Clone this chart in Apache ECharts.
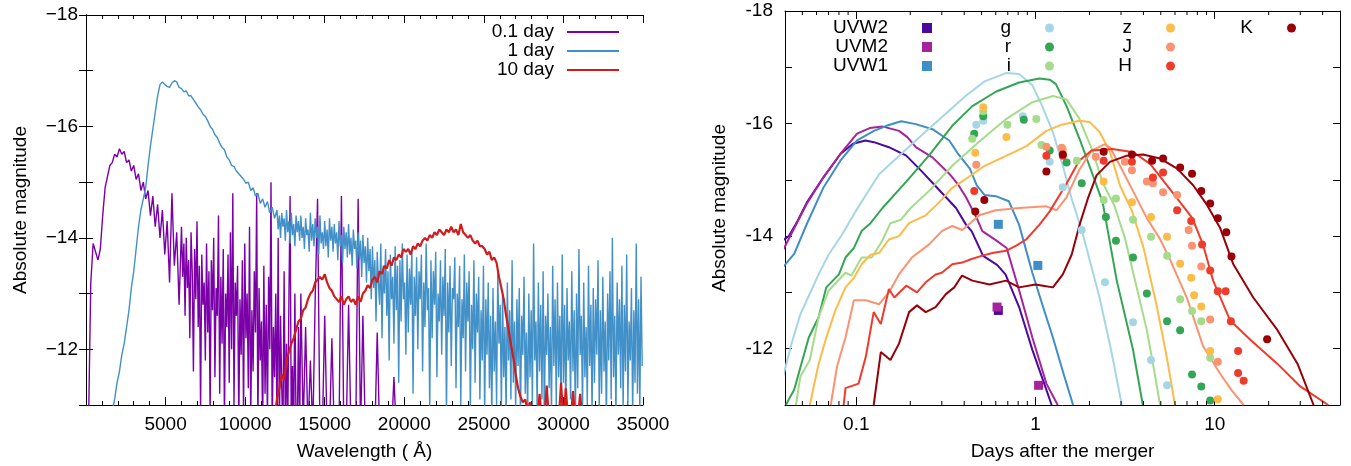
<!DOCTYPE html>
<html>
<head>
<meta charset="utf-8">
<script src="https://cdn.jsdelivr.net/npm/echarts@6/dist/echarts.min.js"></script>
<style>
  html, body { margin: 0; padding: 0; background: #fff; }
  #chart { width: 1351px; height: 466px; }
</style>
</head>
<body>
<div id="chart"></div>
<script>
// ---- left panel: spectra, each piece is [start wavelength, step, magnitudes] ----
const mag01Head = [
  -10.5, -13.2, -13.9, -13.75, -13.6, -13.8, -14.4, -14.9, -15.1, -15.3,
  -15.35, -15.5, -15.45, -15.6, -15.5, -15.55, -15.35, -15.4, -15.2, -15.3,
  -15.05, -15.15, -14.85, -15.0, -14.7, -14.85, -14.4, -14.75, -14.2, -14.6,
  -14.0, -14.5, -13.7, -14.3, -13.2, -14.8, -13.5, -14.1, -12.8
]
const mag01Noise = [
  -14.2, -13.3, -13.9, -12.6, -14.0, -13.1, -13.6, -12.2, -14.1, -13.4,
  -11.6, -13.8, -12.9, -14.3, -12.4, -13.5, -10.9, -13.7, -12.8, -13.2,
  -11.8, -13.9, -12.3, -13.4, -10.8, -13.6, -12.7, -14.0, -11.5, -13.1,
  -12.6, -14.4, -11.2, -13.3, -12.1, -13.8, -10.7, -13.0, -12.4, -13.7,
  -11.4, -14.1, -12.0, -14.8, -11.0, -13.2, -12.6, -13.5, -10.6, -12.9,
  -11.9, -13.6, -10.8, -13.9, -12.2, -13.0, -11.3, -14.2, -10.7, -12.7,
  -11.6, -13.4, -12.3, -14.8, -10.6, -13.1, -11.8, -12.5, -10.5, -13.5,
  -11.2, -12.8, -10.7, -13.3, -12.0, -15.0, -10.5, -12.4, -11.5, -13.0,
  -10.6, -14.0, -10.5, -12.6, -11.3, -10.5, -13.4, -10.6, -12.1, -10.5,
  -12.9, -14.75, -10.5, -11.7, -10.5, -13.0, -10.6, -10.5, -12.4, -10.5
]
const mag01Tail = [
  -13.0, -10.6, -12.4, -10.5, -11.8, -10.5, -12.9, -14.7, -10.5, -10.5,
  -12.6, -10.5, -10.5, -12.2, -10.5, -10.5, -10.5, -14.75, -10.5, -10.5,
  -12.8, -10.5, -10.5, -10.5, -14.7, -10.5, -12.6, -10.5, -10.5, -10.5,
  -10.5, -10.5, -12.3, -10.5, -10.5, -10.5, -10.5, -10.5, -10.5, -11.5, -10.5
]
const mag1Head = [
  -10.6, -10.9, -11.1, -11.4, -11.6, -11.9, -12.1, -12.4, -12.7, -13.1,
  -13.4, -13.8, -14.2, -14.5, -14.7, -14.9, -15.3, -15.65, -15.95, -16.25,
  -16.55, -16.75, -16.8, -16.75, -16.72, -16.7, -16.78, -16.82, -16.8, -16.7,
  -16.68, -16.62, -16.64, -16.55, -16.55, -16.48, -16.42, -16.35, -16.3, -16.22,
  -16.18, -16.1, -16.0, -15.95, -15.85, -15.8, -15.7, -15.62, -15.58, -15.45,
  -15.4, -15.3, -15.28, -15.2, -15.15, -15.1, -15.05, -14.98, -15.0, -14.85,
  -14.9, -14.75, -14.8, -14.62, -14.7, -14.55, -14.65, -14.45, -14.55, -14.35
]
const mag1Band = [
  -14.5, -14.15, -14.4, -14.0, -14.45, -14.2, -14.35, -13.95, -14.5, -14.1,
  -14.3, -13.9, -14.45, -14.05, -14.25, -13.85, -14.4, -14.1, -14.3, -13.95,
  -14.4, -14.0, -14.2, -13.8, -14.35, -14.05, -14.15, -13.75, -14.45, -13.95,
  -14.25, -13.85, -14.35, -14.0, -14.2, -13.7, -14.4, -13.9, -14.1, -13.8,
  -14.3, -13.85, -14.15, -13.65, -14.35, -13.95, -14.2, -13.75, -14.25, -13.9,
  -14.1, -13.6, -14.3, -13.85, -14.05, -13.55, -14.2, -13.8, -14.1, -13.65,
  -14.25, -13.7, -14.0, -13.5, -14.15, -13.8, -13.95, -13.45, -14.1, -13.6,
  -13.95, -13.3, -14.05, -13.55, -13.85, -13.2, -14.0, -13.4, -13.8, -12.9
]
const mag1Noise = [
  -13.85, -13.1, -13.6, -12.5, -13.75, -13.2, -12.8, -13.9, -12.2, -13.5,
  -13.0, -13.8, -12.6, -13.4, -11.8, -13.7, -12.9, -13.3, -12.1, -13.85,
  -12.7, -13.5, -11.4, -13.6, -12.5, -13.9, -12.9, -13.2, -11.9, -13.7,
  -12.3, -13.45, -12.8, -13.8, -11.2, -13.3, -12.6, -13.65, -12.0, -13.4,
  -12.9, -13.7, -11.6, -13.2, -12.4, -13.9, -12.7, -13.1, -10.9, -13.6,
  -12.2, -13.4, -12.8, -13.75, -11.5, -13.0, -12.5, -13.6, -11.9, -13.3,
  -12.6, -13.8, -10.8, -13.2, -12.3, -13.5, -11.7, -13.1, -12.9, -13.65,
  -11.3, -13.0, -12.4, -13.5, -11.0, -12.9, -12.2, -13.7, -11.6, -13.2,
  -12.5, -13.4, -10.9, -12.8, -12.0, -13.6, -11.4, -13.0, -12.3, -13.3,
  -11.1, -12.7, -11.8, -13.5, -10.8, -12.9, -11.9, -13.2, -11.3, -12.6,
  -10.7, -13.1, -11.6, -12.5, -11.0, -13.4, -12.1, -12.8, -10.9, -13.0,
  -11.5, -12.4, -10.8, -13.2, -11.8, -12.7, -11.1, -13.6, -11.4, -12.5,
  -10.9, -12.9, -11.7, -13.1, -10.7, -12.6, -11.9, -13.3, -11.2, -12.3,
  -10.8, -13.0, -11.5, -12.7, -11.0, -13.9, -11.8, -12.5, -10.9, -13.2,
  -11.6, -12.8, -11.1, -13.4, -10.7, -12.6, -11.9, -13.0, -11.3, -12.4,
  -10.8, -13.5, -11.7, -12.9, -11.0, -13.2, -11.5, -12.6, -10.9, -13.7,
  -11.4, -12.8, -10.8, -13.1, -11.8, -12.5, -11.1, -13.4, -11.6, -12.7,
  -10.7, -13.0, -11.3, -13.8, -11.9, -12.6, -10.9, -13.2, -11.5, -12.4,
  -11.0, -13.5, -11.7, -12.8, -10.8, -13.1, -11.4, -12.9, -11.9, -13.6,
  -10.9, -12.7, -11.2, -13.3, -11.6, -12.5, -10.7, -13.0, -11.8, -13.4,
  -11.1, -14.0, -11.5, -12.6, -10.8, -13.2, -11.9, -12.9, -11.3, -13.5,
  -10.9, -12.8, -11.6, -13.7, -11.0, -12.5, -11.8, -13.1, -10.8, -12.7,
  -11.4, -13.9, -11.2, -12.9, -10.9, -13.3, -11.7
]
const mag10 = [
  -10.8, -11.1, -11.3, -11.55, -11.45, -11.8, -11.95, -12.1, -12.2, -12.35,
  -12.5, -12.55, -12.7, -12.75, -12.9, -13.0, -13.05, -13.2, -13.25, -13.3,
  -13.25, -13.35, -13.2, -13.1, -13.05, -12.95, -12.9, -12.85, -12.95, -12.8,
  -12.9, -12.95, -12.85, -12.9, -12.8, -12.95, -12.85, -13.0, -13.05, -13.15,
  -13.1, -13.25, -13.3, -13.2, -13.4, -13.35, -13.5, -13.45, -13.6, -13.5,
  -13.65, -13.6, -13.7, -13.65, -13.8, -13.75, -13.8, -13.7, -13.85, -13.8,
  -13.9, -13.85, -13.95, -14.0, -13.95, -14.05, -14.0, -14.1, -14.05, -14.15,
  -14.1, -14.05, -14.15, -14.1, -14.2, -14.1, -14.15, -14.05, -14.25, -14.1,
  -14.05, -14.0, -14.05, -13.95, -13.9, -13.95, -13.85, -13.85, -13.8, -13.7,
  -13.75, -13.6, -13.65, -13.55, -13.3, -13.1, -12.9, -12.6, -12.35, -12.1,
  -11.85, -11.55, -11.3, -11.15, -11.05, -11.1, -10.9, -11.05, -10.8, -10.9,
  -10.7, -11.2, -10.7, -10.7, -11.35, -10.7, -10.7, -10.8, -10.7, -10.7,
  -11.4, -10.7, -11.3, -10.7, -10.7, -11.25, -10.7, -10.7, -11.2, -10.7
]
const spec01Pieces = [[150, 150, mag01Head], [6000, 75, mag01Noise], [13500, 150, mag01Tail]]
const spec1Pieces = [[1500, 150, mag1Head], [12000, 75, mag1Band], [18000, 75, mag1Noise]]
const spec10Pieces = [[11850, 150, mag10]]

// ---- right panel: model light curves [days, mag] ----
const uvw2Line = [[0.039,-13.93],[0.042,-14.0],[0.047,-14.27],[0.053,-14.6],[0.0657,-15.05],[0.0815,-15.46],[0.0958,-15.64],[0.1125,-15.70],[0.1254,-15.67],[0.152,-15.58],[0.19,-15.43],[0.232,-15.15],[0.29,-14.82],[0.36,-14.5],[0.41,-14.2],[0.44,-14.09],[0.51,-13.65],[0.61,-13.49],[0.68,-13.32],[0.81,-12.74],[0.96,-11.98],[1.15,-11.27],[1.23,-11.0]]
const uvm2Line = [[0.039,-13.75],[0.053,-14.58],[0.0657,-15.05],[0.0815,-15.46],[0.101,-15.82],[0.1188,-15.92],[0.1396,-15.95],[0.173,-15.87],[0.1927,-15.76],[0.2147,-15.58],[0.266,-15.40],[0.33,-15.11],[0.3675,-14.93],[0.4094,-14.69],[0.47,-14.32],[0.505,-14.09],[0.60,-13.93],[0.69,-13.79],[0.81,-13.04],[0.96,-12.2],[1.15,-11.38],[1.33,-11.0]]
const uvw1Line = [[0.039,-13.45],[0.0451,-13.69],[0.053,-14.22],[0.0657,-14.87],[0.0815,-15.34],[0.101,-15.70],[0.1254,-15.87],[0.1473,-15.96],[0.178,-16.04],[0.2147,-15.99],[0.266,-15.90],[0.33,-15.70],[0.37,-15.46],[0.43,-15.2],[0.47,-14.9],[0.52,-14.73],[0.60,-14.71],[0.71,-14.62],[0.81,-14.2],[0.96,-13.35],[1.10,-12.75],[1.25,-12.2],[1.42,-11.6],[1.62,-11.0]]
const gLine = [[0.039,-11.5],[0.0435,-12.09],[0.0487,-12.61],[0.0517,-12.79],[0.0616,-13.32],[0.07,-13.67],[0.083,-14.02],[0.099,-14.44],[0.134,-15.1],[0.2147,-15.7],[0.2965,-16.1],[0.41,-16.5],[0.52,-16.75],[0.69,-16.9],[0.81,-16.88],[0.96,-16.68],[1.09,-16.31],[1.25,-15.85],[1.42,-15.25],[1.59,-14.67],[1.85,-14.0],[2.28,-12.9],[2.65,-11.95],[3.03,-11.0]]
const rLine = [[0.0405,-11.0],[0.042,-11.1],[0.045,-11.27],[0.0483,-11.62],[0.0543,-12.2],[0.0616,-12.56],[0.068,-13.09],[0.08,-13.32],[0.087,-13.62],[0.097,-13.79],[0.107,-14.09],[0.12,-14.23],[0.14,-14.5],[0.19,-14.97],[0.254,-15.43],[0.343,-15.96],[0.444,-16.31],[0.604,-16.57],[0.81,-16.73],[1.05,-16.8],[1.2,-16.78],[1.3,-16.7],[1.49,-16.31],[1.76,-15.73],[2.09,-15.08],[2.37,-14.6],[2.84,-13.21],[3.5,-11.98],[3.97,-11.0]]
const iLine = [[0.046,-11.0],[0.0487,-11.5],[0.055,-11.8],[0.0616,-12.56],[0.07,-13.03],[0.087,-13.35],[0.094,-13.3],[0.107,-13.62],[0.122,-13.62],[0.139,-13.91],[0.155,-14.23],[0.177,-14.29],[0.201,-14.5],[0.254,-14.8],[0.343,-15.25],[0.486,-15.68],[0.685,-16.08],[0.96,-16.38],[1.25,-16.49],[1.49,-16.43],[1.76,-16.08],[2.09,-15.5],[2.37,-14.95],[2.75,-14.55],[3.15,-13.97],[3.6,-13.2],[4.18,-12.33],[4.6,-11.6],[4.95,-11.0]]
const zLine = [[0.055,-11.0],[0.0616,-11.73],[0.068,-12.2],[0.0764,-12.68],[0.087,-13.09],[0.097,-13.26],[0.107,-13.5],[0.12,-13.67],[0.134,-13.7],[0.152,-13.94],[0.173,-14.0],[0.197,-14.23],[0.244,-14.37],[0.29,-14.6],[0.34,-14.85],[0.41,-15.02],[0.52,-15.25],[0.69,-15.43],[0.89,-15.6],[1.15,-15.87],[1.4,-15.98],[1.76,-16.05],[2.0,-16.03],[2.28,-15.85],[2.6,-15.5],[2.96,-14.9],[3.45,-14.45],[4.0,-13.8],[4.76,-12.74],[5.4,-11.85],[6.0,-11.0]]
const jLine = [[0.072,-11.0],[0.078,-11.68],[0.087,-12.2],[0.097,-12.86],[0.113,-12.86],[0.134,-12.79],[0.152,-13.0],[0.173,-13.32],[0.204,-13.62],[0.254,-13.85],[0.30,-14.09],[0.343,-14.18],[0.39,-14.11],[0.486,-14.37],[0.60,-14.46],[0.81,-14.5],[1.15,-14.53],[1.31,-14.46],[1.489,-14.69],[1.75,-15.17],[2.055,-15.52],[2.42,-15.63],[2.6,-15.58],[2.96,-15.25],[3.5,-14.8],[4.18,-14.32],[4.95,-13.95],[5.6,-13.6],[7.0,-12.9],[8.6,-12.05],[10.7,-11.56],[12.5,-11.25],[14.5,-11.0]]
const hLine = [[0.085,-11.0],[0.087,-11.3],[0.103,-11.38],[0.113,-11.86],[0.125,-12.65],[0.137,-12.44],[0.152,-13.06],[0.163,-12.91],[0.19,-13.12],[0.218,-13.0],[0.244,-13.18],[0.277,-13.32],[0.30,-13.35],[0.343,-13.5],[0.39,-13.53],[0.436,-13.59],[0.50,-13.65],[0.574,-13.7],[0.685,-13.74],[0.78,-13.83],[0.886,-13.94],[1.05,-14.2],[1.2,-14.44],[1.489,-14.93],[1.75,-15.34],[2.055,-15.52],[2.69,-15.55],[3.52,-15.49],[4.37,-15.28],[5.71,-14.81],[7.5,-14.32],[8.6,-13.85],[9.8,-13.21],[12.2,-12.5],[15.8,-12.16],[22.4,-11.73],[30,-11.33],[43,-11.0]]
const kLine = [[0.125,-11.0],[0.137,-11.94],[0.155,-11.8],[0.173,-12.09],[0.197,-12.65],[0.218,-12.77],[0.244,-12.65],[0.277,-12.74],[0.316,-12.97],[0.352,-13.09],[0.389,-13.3],[0.444,-13.21],[0.553,-13.14],[0.685,-13.21],[0.81,-13.09],[1.0,-13.14],[1.1,-13.12],[1.25,-13.09],[1.42,-13.32],[1.59,-13.67],[1.76,-14.2],[1.96,-14.67],[2.19,-15.08],[2.6,-15.32],[3.23,-15.43],[3.98,-15.45],[4.95,-15.38],[6.17,-15.2],[7.6,-14.9],[9.07,-14.55],[10.7,-14.15],[12.7,-13.5],[16.4,-12.91],[22.4,-12.33],[29,-11.73],[35.6,-11.0]]

// observed points [days, mag]
const uvw2Obs = [[0.62,-12.68]]
const uvm2Obs = [[0.61,-12.74],[1.04,-11.35]]
const uvw1Obs = [[0.62,-14.21],[1.03,-13.48]]
const gObs = [[0.467,-15.98],[0.511,-16.05],[0.85,-16.13],[1.20,-15.32],[1.42,-14.87],[1.81,-14.11],[2.44,-13.18],[3.50,-12.47],[4.41,-11.80],[5.42,-11.35]]
const rObs = [[0.511,-16.13],[0.455,-15.82],[0.86,-16.07],[1.20,-15.52],[1.49,-15.31],[1.81,-14.94],[2.47,-14.34],[2.81,-13.92],[3.50,-13.62],[4.18,-12.98],[5.42,-12.49],[6.41,-12.33],[7.47,-11.54],[8.41,-11.33],[9.43,-11.08]]
const iObs = [[0.511,-16.22],[0.443,-15.73],[0.697,-15.98],[1.01,-16.08],[1.08,-15.62],[1.70,-15.34],[2.40,-14.64],[2.81,-14.67],[3.50,-14.29],[4.41,-13.99],[5.42,-13.65],[6.41,-12.88],[7.47,-12.67],[8.41,-12.49],[9.43,-11.84]]
const zObs = [[0.511,-16.29],[0.461,-15.48],[0.688,-15.76],[1.42,-15.54],[2.40,-14.97],[3.45,-14.60],[4.41,-14.34],[5.42,-13.99],[6.41,-13.51],[7.39,-13.26],[7.67,-12.95],[8.41,-12.75],[9.43,-11.96],[10.4,-11.10]]
const jObs = [[0.467,-15.27],[1.15,-15.59],[1.40,-15.57],[2.17,-15.41],[3.15,-15.32],[3.45,-15.17],[4.18,-14.97],[4.52,-14.94],[5.15,-14.78],[6.17,-14.73],[7.15,-14.11],[7.47,-13.83],[8.41,-13.46],[9.43,-12.52],[10.4,-11.77]]
const hObs = [[0.455,-14.80],[1.15,-15.43],[1.42,-15.43],[2.40,-15.34],[3.45,-15.32],[4.52,-15.04],[5.15,-15.13],[6.17,-14.46],[7.39,-14.27],[8.5,-13.85],[9.43,-13.39],[10.4,-13.02],[11.5,-13.02],[12.3,-12.49],[13.5,-11.96],[13.5,-11.57],[14.5,-11.43]]
const kObs = [[0.518,-14.64],[0.461,-14.44],[1.15,-15.15],[1.42,-15.45],[2.40,-15.50],[3.45,-15.45],[4.47,-15.34],[5.15,-15.38],[6.41,-15.22],[7.47,-15.11],[8.41,-14.80],[9.43,-14.58],[10.4,-14.32],[11.6,-14.07],[12.4,-13.64],[19.6,-12.17]]

// minor tick values for the log axis
const logMinor = [0.05,0.06,0.07,0.08,0.09,0.2,0.3,0.4,0.5,0.6,0.7,0.8,0.9,2,3,4,5,6,7,8,9,20,30,40]

const bands = [
  { name: 'UVW2', line: uvw2Line, obs: uvw2Obs, color: '#4a0a9e', symbol: 'rect' },
  { name: 'UVM2', line: uvm2Line, obs: uvm2Obs, color: '#a5249c', symbol: 'rect' },
  { name: 'UVW1', line: uvw1Line, obs: uvw1Obs, color: '#3e8ec8', symbol: 'rect' },
  { name: 'g', line: gLine, obs: gObs, color: '#a6d6e6', symbol: 'circle' },
  { name: 'r', line: rLine, obs: rObs, color: '#33a555', symbol: 'circle' },
  { name: 'i', line: iLine, obs: iObs, color: '#a4dc8c', symbol: 'circle' },
  { name: 'z', line: zLine, obs: zObs, color: '#fdbb48', symbol: 'circle' },
  { name: 'J', line: jLine, obs: jObs, color: '#fb9272', symbol: 'circle' },
  { name: 'H', line: hLine, obs: hObs, color: '#ef3b2c', symbol: 'circle' },
  { name: 'K', line: kLine, obs: kObs, color: '#990008', symbol: 'circle' },
]

const font = 'Liberation Sans'
const fs = 19
const chart = echarts.init(document.getElementById('chart'))

const toPairs = pieces => {
  const out = []
  pieces.forEach(([start, step, mags]) => mags.forEach((m, i) => out.push([start + i * step, m])))
  return out
}

const magAxis = (grid, pos, fmt, show) => ({
  type: 'value', gridIndex: grid, position: pos, inverse: true,
  min: -18, max: -11, interval: 1,
  axisLine: { show: true, lineStyle: { color: '#000', width: 1 } },
  axisTick: { show: true, inside: true, length: 7, lineStyle: { color: '#000' } },
  axisLabel: { show: show, formatter: fmt, color: '#000', fontFamily: font, fontSize: fs, margin: grid === 0 ? 8 : 12 },
  splitLine: { show: false },
})

const wlAxis = (pos, show) => ({
  type: 'value', gridIndex: 0, position: pos,
  min: 0, max: 35000, interval: 5000,
  axisLine: { show: true, lineStyle: { color: '#000', width: 1 } },
  axisTick: { show: true, inside: true, length: 8, lineStyle: { color: '#000' } },
  minorTick: { show: true, splitNumber: 5, length: 4, lineStyle: { color: '#000' } },
  axisLabel: { show: show, formatter: v => (v === 0 ? '' : String(v)), color: '#000', fontFamily: font, fontSize: fs, margin: 10 },
  splitLine: { show: false },
})

const dayAxis = (pos, show) => ({
  type: 'log', logBase: 10, gridIndex: 1, position: pos,
  min: 0.04, max: 50,
  axisLine: { show: true, lineStyle: { color: '#000', width: 1 } },
  axisTick: { show: true, inside: true, length: 8, lineStyle: { color: '#000' } },
  axisLabel: { show: show, showMinLabel: false, showMaxLabel: false, formatter: v => String(+v.toPrecision(3)),
    color: '#000', fontFamily: font, fontSize: fs, margin: 10 },
  splitLine: { show: false },
})

const nameStyle = { color: '#000', fontFamily: font, fontSize: fs }
const xAxes = [
  Object.assign(wlAxis('bottom', true), { name: 'Wavelength ( Å)', nameLocation: 'middle', nameGap: 37, nameTextStyle: nameStyle }),
  wlAxis('top', false),
  Object.assign(dayAxis('bottom', true), { name: 'Days after the merger', nameLocation: 'middle', nameGap: 37, nameTextStyle: nameStyle }),
  dayAxis('top', false),
]
const yAxes = [
  Object.assign(magAxis(0, 'left', v => (v % 2 === 0 ? '\u2212' + Math.abs(v) : ''), true),
    { name: 'Absolute magnitude', nameLocation: 'middle', nameGap: 56, nameTextStyle: nameStyle }),
  magAxis(0, 'right', null, false),
  Object.assign(magAxis(1, 'left', v => (v % 2 === 0 ? String(v) : ''), true),
    { name: 'Absolute magnitude', nameLocation: 'middle', nameGap: 56, nameTextStyle: nameStyle }),
  magAxis(1, 'right', null, false),
]

const series = [
  { name: '0.1 day', type: 'line', xAxisIndex: 0, yAxisIndex: 0, data: toPairs(spec01Pieces),
    showSymbol: false, symbol: 'none', color: '#7b00a8', lineStyle: { width: 1.4 } },
  { name: '1 day', type: 'line', xAxisIndex: 0, yAxisIndex: 0, data: toPairs(spec1Pieces),
    showSymbol: false, symbol: 'none', color: '#4190c8', lineStyle: { width: 1.4 } },
  { name: '10 day', type: 'line', xAxisIndex: 0, yAxisIndex: 0, data: toPairs(spec10Pieces),
    showSymbol: false, symbol: 'none', color: '#d01c1c', lineStyle: { width: 2.2 } },
]
bands.forEach(b => {
  series.push({ name: b.name + ' model', type: 'line', xAxisIndex: 2, yAxisIndex: 2, data: b.line,
    showSymbol: false, symbol: 'none', color: b.color, lineStyle: { width: 2 }, z: 2 })
})
bands.forEach(b => {
  series.push({ name: b.name, type: 'scatter', xAxisIndex: 2, yAxisIndex: 2, data: b.obs,
    symbol: b.symbol, symbolSize: b.symbol === 'rect' ? 9 : 8, color: b.color,
    itemStyle: { opacity: 1 }, z: 3 })
})
series.push({
  type: 'custom', xAxisIndex: 2, yAxisIndex: 2, silent: true, z: 4,
  data: logMinor.map(v => [v, -14]),
  renderItem: (params, api) => {
    const b = api.coord([api.value(0), -11])
    const t = api.coord([api.value(0), -18])
    const st = { stroke: '#000', lineWidth: 1 }
    return { type: 'group', children: [
      { type: 'line', shape: { x1: b[0], y1: b[1], x2: b[0], y2: b[1] - 4 }, style: st },
      { type: 'line', shape: { x1: t[0], y1: t[1], x2: t[0], y2: t[1] + 4 }, style: st },
    ] }
  },
})

const legendBase = {
  orient: 'vertical', align: 'right', padding: 0, itemGap: 0,
  textStyle: { color: '#000', fontFamily: font, fontSize: fs, lineHeight: 19, padding: [0, 29, 0, 0] },
}
const rightLegend = (names, icon, size, right) => Object.assign({}, legendBase, {
  top: 18.5, right: right, itemWidth: size, itemHeight: size,
  data: names.map(n => ({ name: n, icon: icon })),
})

const option = {
  animation: false,
  backgroundColor: '#fff',
  grid: [
    { left: 86, top: 15, width: 557, height: 393 },
    { left: 785, top: 11, width: 555, height: 397 },
  ],
  xAxis: xAxes,
  yAxis: yAxes,
  legend: [
    Object.assign({}, legendBase, {
      top: 22.5, right: 732, itemWidth: 52, itemHeight: 2,
      textStyle: Object.assign({}, legendBase.textStyle, { padding: [0, 8, 0, 0] }),
      data: ['0.1 day', '1 day', '10 day'].map(n => ({ name: n, icon: 'rect' })),
    }),
    rightLegend(['UVW2', 'UVM2', 'UVW1'], 'rect', 10, 419),
    rightLegend(['g', 'r', 'i'], 'circle', 9, 297),
    rightLegend(['z', 'J', 'H'], 'circle', 9, 176),
    rightLegend(['K'], 'circle', 9, 55),
  ],
  series: series,
}

chart.setOption(option)
</script>
</body>
</html>
